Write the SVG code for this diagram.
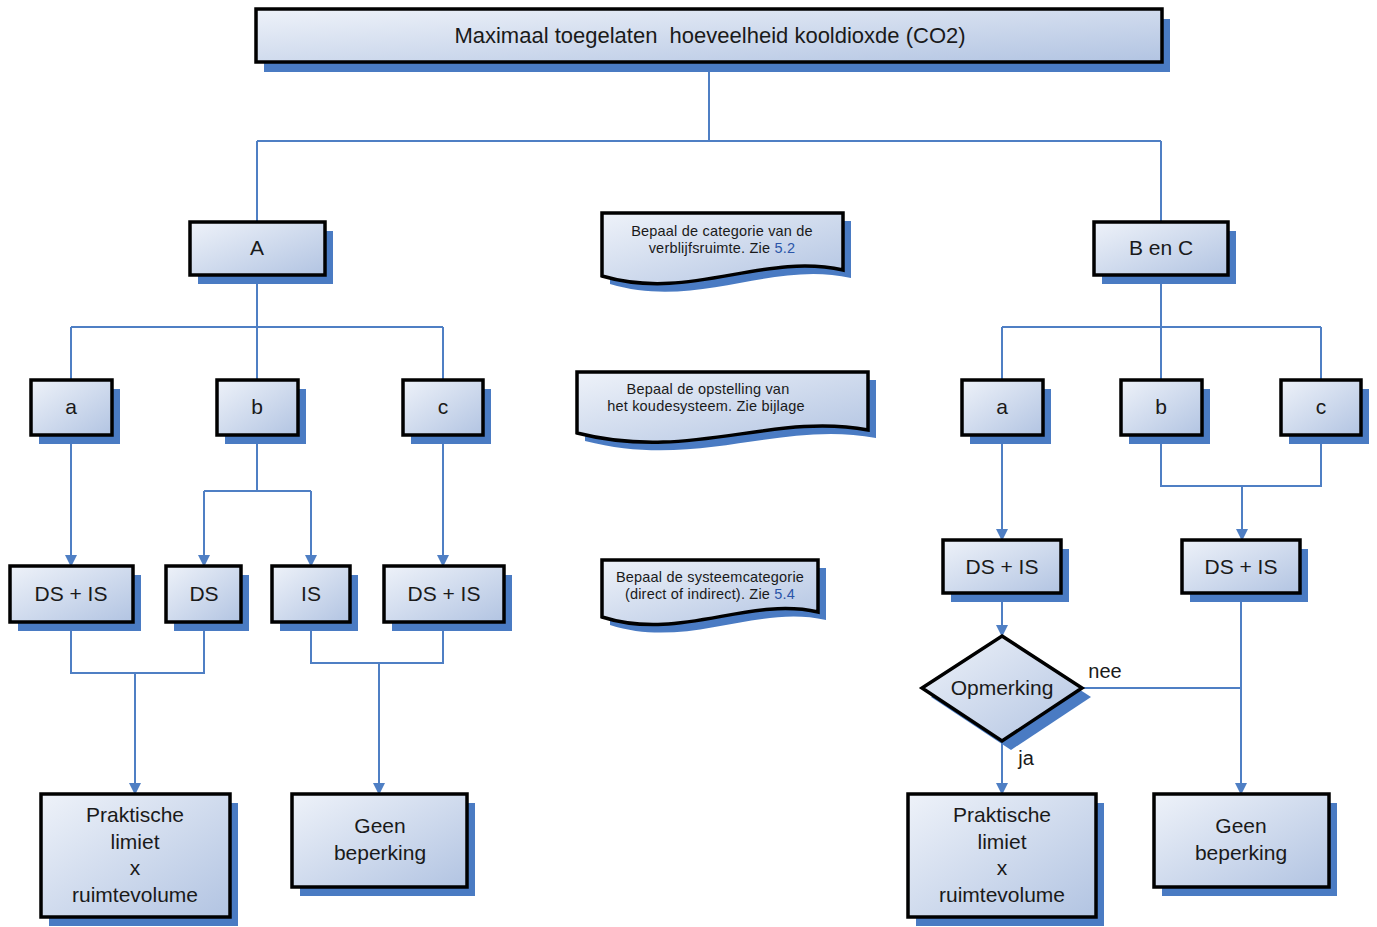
<svg xmlns="http://www.w3.org/2000/svg" width="1377" height="927" viewBox="0 0 1377 927">
<defs>
<linearGradient id="g" x1="0" y1="0" x2="1" y2="1">
<stop offset="0" stop-color="#eef2f9"/>
<stop offset="1" stop-color="#b2c4e2"/>
</linearGradient>
<marker id="ah" markerWidth="12" markerHeight="12" refX="11" refY="6" orient="auto" markerUnits="userSpaceOnUse">
<path d="M0,0 L12,6 L0,12 Z" fill="#4f7fc4"/>
</marker>
<style>
.box{fill:url(#g);stroke:#000;stroke-width:3.5}
.sh{fill:#4a7bc3}
.t{font-family:"Liberation Sans",Arial,sans-serif;font-size:21px;fill:#1a1a1a;text-anchor:middle}
.s{font-family:"Liberation Sans",Arial,sans-serif;font-size:14.5px;letter-spacing:0.2px;fill:#1a1a1a;text-anchor:middle}
.blue{fill:#2b55a8}
.c{fill:none;stroke:#4f7fc4;stroke-width:2}
.a{marker-end:url(#ah)}
</style>
</defs>
<rect width="1377" height="927" fill="#fff"/>

<g id="connectors">
<path class="c" d="M709,62 V141 M257,141 H1161 M257,141 V222 M1161,141 V222"/>
<path class="c" d="M257,275 V327 M71,327 H443 M71,327 V380 M257,327 V380 M443,327 V380"/>
<path class="c" d="M1161,275 V327 M1002,327 H1321 M1002,327 V380 M1161,327 V380 M1321,327 V380"/>
<path class="c a" d="M71,435 V566"/>
<path class="c" d="M257,435 V491 M204,491 H311"/>
<path class="c a" d="M204,491 V566"/>
<path class="c a" d="M311,491 V566"/>
<path class="c a" d="M443,435 V566"/>
<path class="c" d="M71,622 V673 H204 V622"/>
<path class="c a" d="M135,673 V794"/>
<path class="c" d="M311,622 V663 H443 V622"/>
<path class="c a" d="M379,663 V794"/>
<path class="c a" d="M1002,435 V540"/>
<path class="c" d="M1161,435 V486 H1321 V435"/>
<path class="c a" d="M1242,486 V540"/>
<path class="c a" d="M1002,593 V636"/>
<path class="c a" d="M1002,741 V794"/>
<path class="c" d="M1082,688 H1241"/>
<path class="c a" d="M1241,596 V794"/>
</g>

<g id="top">
<rect class="sh" x="264" y="19" width="906" height="53"/>
<rect class="box" x="256" y="9" width="906" height="53"/>
<text class="t" x="710" y="43" style="white-space:pre;font-size:22px">Maximaal toegelaten  hoeveelheid kooldioxde (CO2)</text>
</g>

<g id="nodeA">
<rect class="sh" x="198" y="231" width="135" height="53"/>
<rect class="box" x="190" y="222" width="135" height="53"/>
<text class="t" x="257" y="255">A</text>
</g>
<g id="nodeBC">
<rect class="sh" x="1102" y="231" width="134" height="53"/>
<rect class="box" x="1094" y="222" width="134" height="53"/>
<text class="t" x="1161" y="255">B en C</text>
</g>

<g id="La">
<rect class="sh" x="39" y="389" width="81" height="55"/>
<rect class="box" x="31" y="380" width="81" height="55"/>
<text class="t" x="71" y="414">a</text>
</g>
<g id="Lb">
<rect class="sh" x="225" y="389" width="81" height="55"/>
<rect class="box" x="217" y="380" width="81" height="55"/>
<text class="t" x="257" y="414">b</text>
</g>
<g id="Lc">
<rect class="sh" x="411" y="389" width="80" height="55"/>
<rect class="box" x="403" y="380" width="80" height="55"/>
<text class="t" x="443" y="414">c</text>
</g>
<g id="Ra">
<rect class="sh" x="970" y="389" width="81" height="55"/>
<rect class="box" x="962" y="380" width="81" height="55"/>
<text class="t" x="1002" y="414">a</text>
</g>
<g id="Rb">
<rect class="sh" x="1129" y="389" width="81" height="55"/>
<rect class="box" x="1121" y="380" width="81" height="55"/>
<text class="t" x="1161" y="414">b</text>
</g>
<g id="Rc">
<rect class="sh" x="1289" y="389" width="80" height="55"/>
<rect class="box" x="1281" y="380" width="80" height="55"/>
<text class="t" x="1321" y="414">c</text>
</g>

<g id="LDSIS1">
<rect class="sh" x="18" y="575" width="123" height="56"/>
<rect class="box" x="10" y="566" width="123" height="56"/>
<text class="t" x="71" y="601">DS + IS</text>
</g>
<g id="LDS">
<rect class="sh" x="174" y="575" width="75" height="56"/>
<rect class="box" x="166" y="566" width="75" height="56"/>
<text class="t" x="204" y="601">DS</text>
</g>
<g id="LIS">
<rect class="sh" x="280" y="575" width="78" height="56"/>
<rect class="box" x="272" y="566" width="78" height="56"/>
<text class="t" x="311" y="601">IS</text>
</g>
<g id="LDSIS2">
<rect class="sh" x="392" y="575" width="120" height="56"/>
<rect class="box" x="384" y="566" width="120" height="56"/>
<text class="t" x="444" y="601">DS + IS</text>
</g>
<g id="RDSIS1">
<rect class="sh" x="951" y="549" width="118" height="53"/>
<rect class="box" x="943" y="540" width="118" height="53"/>
<text class="t" x="1002" y="574">DS + IS</text>
</g>
<g id="RDSIS2">
<rect class="sh" x="1190" y="549" width="118" height="53"/>
<rect class="box" x="1182" y="540" width="118" height="53"/>
<text class="t" x="1241" y="574">DS + IS</text>
</g>

<g id="opmerking">
<polygon class="sh" points="1011,645 1091,697 1011,750 931,697"/>
<polygon class="box" points="1002,636 1082,688 1002,741 922,688"/>
<text class="t" x="1002" y="695">Opmerking</text>
</g>
<g id="labels">
<text class="t" x="1105" y="678" style="font-size:20px">nee</text>
<text class="t" x="1026" y="765" style="font-size:20px">ja</text>
</g>

<g id="LPrak">
<rect class="sh" x="49" y="803" width="189" height="123"/>
<rect class="box" x="41" y="794" width="189" height="123"/>
<text class="t" x="135" y="822">Praktische</text>
<text class="t" x="135" y="849">limiet</text>
<text class="t" x="135" y="875">x</text>
<text class="t" x="135" y="902">ruimtevolume</text>
</g>
<g id="LGeen">
<rect class="sh" x="300" y="803" width="175" height="93"/>
<rect class="box" x="292" y="794" width="175" height="93"/>
<text class="t" x="380" y="833">Geen</text>
<text class="t" x="380" y="860">beperking</text>
</g>
<g id="RPrak">
<rect class="sh" x="916" y="803" width="188" height="123"/>
<rect class="box" x="908" y="794" width="188" height="123"/>
<text class="t" x="1002" y="822">Praktische</text>
<text class="t" x="1002" y="849">limiet</text>
<text class="t" x="1002" y="875">x</text>
<text class="t" x="1002" y="902">ruimtevolume</text>
</g>
<g id="RGeen">
<rect class="sh" x="1162" y="803" width="175" height="93"/>
<rect class="box" x="1154" y="794" width="175" height="93"/>
<text class="t" x="1241" y="833">Geen</text>
<text class="t" x="1241" y="860">beperking</text>
</g>

<g id="doc1">
<path class="sh" d="M610,221 H851 V278 C771,260 698,310 610,284 Z"/>
<path class="box" d="M602,213 H843 V270 C763,252 690,302 602,276 Z"/>
<text class="s" x="722" y="236">Bepaal de categorie van de</text>
<text class="s" x="722" y="253">verblijfsruimte. Zie <tspan class="blue">5.2</tspan></text>
</g>
<g id="doc2">
<path class="sh" d="M585,380 H876 V438 C780,420 698,470 585,441 Z"/>
<path class="box" d="M577,372 H868 V430 C772,412 690,462 577,433 Z"/>
<text class="s" x="708" y="394">Bepaal de opstelling van</text>
<text class="s" x="706" y="411">het koudesysteem. Zie bijlage</text>
</g>
<g id="doc3">
<path class="sh" d="M610,568 H826 V620 C756,604 688,650 610,625 Z"/>
<path class="box" d="M602,560 H818 V612 C748,596 680,642 602,617 Z"/>
<text class="s" x="710" y="582">Bepaal de systeemcategorie</text>
<text class="s" x="710" y="599">(direct of indirect). Zie <tspan class="blue">5.4</tspan></text>
</g>
</svg>
